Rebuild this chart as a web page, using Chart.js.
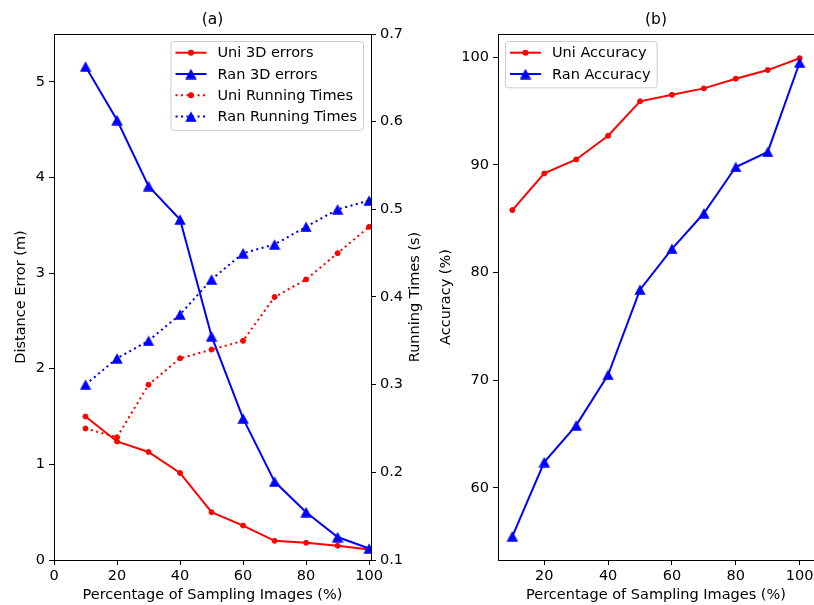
<!DOCTYPE html>
<html>
<head>
<meta charset="utf-8">
<script src="https://cdn.jsdelivr.net/npm/chart.js@4"></script>
<style>
html, body { margin: 0; padding: 0; background: #fff; }
#chartA { position: absolute; left: 0; top: 0; }
#chartB { position: absolute; left: 432px; top: 0; }
</style>
</head>
<body>
<canvas id="chartA" width="432" height="605"></canvas>
<canvas id="chartB" width="382" height="605"></canvas>
<script>
// data
const samplingPct = [10, 20, 30, 40, 50, 60, 70, 80, 90, 100];
const uniError = [1.50, 1.24, 1.13, 0.91, 0.50, 0.36, 0.20, 0.18, 0.15, 0.11];
const ranError = [5.16, 4.60, 3.91, 3.56, 2.34, 1.48, 0.82, 0.50, 0.24, 0.12];
const uniTime = [0.25, 0.24, 0.30, 0.33, 0.34, 0.35, 0.40, 0.42, 0.45, 0.48];
const ranTime = [0.30, 0.33, 0.35, 0.38, 0.42, 0.45, 0.46, 0.48, 0.50, 0.51];
const uniAcc = [85.8, 89.2, 90.5, 92.7, 95.9, 96.5, 97.1, 98.0, 98.8, 99.9];
const ranAcc = [55.5, 62.4, 65.8, 70.5, 78.4, 82.2, 85.5, 89.8, 91.2, 99.5];

const xTicksA = [0, 20, 40, 60, 80, 100];
const xTicksB = [20, 40, 60, 80, 100];
const errTicks = [0, 1, 2, 3, 4, 5];
const timeTicks = [0.1, 0.2, 0.3, 0.4, 0.5, 0.6, 0.7];
const accTicks = [60, 70, 80, 90, 100];

const RED = '#ff0000';
const BLUE = '#0000ff';
const FONT = 'DejaVu Sans';
const FS = 14.5;

Chart.defaults.font.family = FONT;
Chart.defaults.font.size = FS;
Chart.defaults.color = '#000';

const pts = arr => samplingPct.map((x, i) => ({ x: x, y: arr[i] }));
const setTicks = vals => scale => { scale.ticks = vals.map(v => ({ value: v })); };

// matplotlib style '^' marker
function triangle(color) {
    const c = document.createElement('canvas');
    c.width = 12; c.height = 11;
    const g = c.getContext('2d');
    g.fillStyle = color;
    g.beginPath();
    g.moveTo(6, 0.3);
    g.lineTo(0.3, 10.7);
    g.lineTo(11.7, 10.7);
    g.closePath();
    g.fill();
    return c;
}
const triBlue = triangle(BLUE);

function uniStyle(color, dash) {
    return {
        borderColor: color, backgroundColor: color, borderWidth: 2, borderDash: dash,
        pointStyle: 'circle', pointRadius: 2.5, pointBorderWidth: 1,
        pointBackgroundColor: color, pointBorderColor: color, tension: 0, fill: false
    };
}
function ranStyle(color, dash) {
    return {
        borderColor: color, backgroundColor: color, borderWidth: 2, borderDash: dash,
        pointStyle: triBlue, pointRadius: 5, pointBorderWidth: 0, tension: 0, fill: false
    };
}

/* legend drawn like matplotlib's boxed legend */
const mplLegend = {
    id: 'mplLegend',
    afterDatasetsDraw(chart, args, opts) {
        const ctx = chart.ctx, ca = chart.chartArea;
        const sets = chart.data.datasets;
        const rowH = 21.3, handle = 31;
        ctx.save();
        ctx.font = FS + 'px "' + FONT + '"';
        const textW = Math.max(...sets.map(d => ctx.measureText(d.label).width));
        const w = 5 + handle + 11 + textW + 6;
        const h = 11.7 + (sets.length - 1) * rowH + 13.3;
        const left = opts.loc === 'right' ? ca.right - 8 - w : ca.left + 7;
        const top = ca.top + 7;
        ctx.beginPath();
        ctx.roundRect(left + 0.5, top + 0.5, w, h, 3);
        ctx.fillStyle = 'rgba(255,255,255,0.8)';
        ctx.fill();
        ctx.strokeStyle = '#cccccc';
        ctx.lineWidth = 1;
        ctx.stroke();
        sets.forEach((d, i) => {
            const y = top + 11.7 + i * rowH;
            const x0 = left + 5;
            ctx.strokeStyle = d.borderColor;
            ctx.lineWidth = d.borderWidth;
            ctx.setLineDash(d.borderDash || []);
            ctx.beginPath();
            ctx.moveTo(x0, y);
            ctx.lineTo(x0 + handle, y);
            ctx.stroke();
            ctx.setLineDash([]);
            const mx = x0 + handle / 2;
            if (d.pointStyle instanceof HTMLCanvasElement) {
                ctx.drawImage(d.pointStyle, mx - d.pointStyle.width / 2, y - d.pointStyle.height / 2);
            } else {
                ctx.fillStyle = d.pointBackgroundColor;
                ctx.beginPath();
                ctx.arc(mx, y, d.pointRadius + d.pointBorderWidth / 2, 0, Math.PI * 2);
                ctx.fill();
            }
            ctx.fillStyle = '#000';
            ctx.textBaseline = 'middle';
            ctx.fillText(d.label, x0 + handle + 11, y + 1);
        });
        ctx.restore();
    }
};

/* top spine + right-hand axis title reading upwards */
const extras = {
    id: 'extras',
    afterDraw(chart, args, opts) {
        const ctx = chart.ctx, ca = chart.chartArea;
        ctx.save();
        ctx.strokeStyle = '#000';
        ctx.lineWidth = 1;
        ctx.beginPath();
        ctx.moveTo(ca.left, Math.round(ca.top) + 0.5);
        ctx.lineTo(ca.right + 1, Math.round(ca.top) + 0.5);
        ctx.stroke();
        if (opts.sideTitle) {
            ctx.translate(opts.sideX, (ca.top + ca.bottom) / 2);
            ctx.rotate(-Math.PI / 2);
            ctx.font = FS + 'px "' + FONT + '"';
            ctx.fillStyle = '#000';
            ctx.textAlign = 'center';
            ctx.textBaseline = 'middle';
            ctx.fillText(opts.sideTitle, 0, 0);
        }
        ctx.restore();
    }
};

const gridOpts = { display: true, drawOnChartArea: false, drawTicks: true, tickLength: 5, color: '#000', lineWidth: 1 };
const borderOpts = { display: true, color: '#000', width: 1 };

function xAxis(min, max, ticks) {
    return {
        type: 'linear', min: min, max: max,
        afterBuildTicks: setTicks(ticks),
        afterFit: s => { s.height = 45; s.paddingLeft = 0; s.paddingRight = 0; },
        ticks: { padding: 3, maxRotation: 0 },
        grid: gridOpts, border: borderOpts,
        title: { display: true, text: 'Percentage of Sampling Images (%)', padding: { top: 0, bottom: 1 } }
    };
}

const titleFont = { size: 15.5, weight: 'normal' };

new Chart(document.getElementById('chartA'), {
    type: 'line',
    data: {
        datasets: [
            Object.assign({ label: 'Uni 3D errors', data: pts(uniError), yAxisID: 'y', order: 3 }, uniStyle(RED, [])),
            Object.assign({ label: 'Ran 3D errors', data: pts(ranError), yAxisID: 'y', order: 2 }, ranStyle(BLUE, [])),
            Object.assign({ label: 'Uni Running Times', data: pts(uniTime), yAxisID: 'y1', order: 1 }, uniStyle(RED, [2.1, 3.4])),
            Object.assign({ label: 'Ran Running Times', data: pts(ranTime), yAxisID: 'y1', order: 0 }, ranStyle(BLUE, [2.1, 3.4]))
        ]
    },
    options: {
        responsive: false,
        animation: false,
        layout: { padding: 0, autoPadding: false },
        plugins: {
            legend: { display: false },
            tooltip: { enabled: false },
            title: { display: true, text: '(a)', fullSize: false, font: titleFont, padding: { top: 11, bottom: 4.4 } },
            mplLegend: { loc: 'right' },
            extras: { sideTitle: 'Running Times (s)', sideX: 415 }
        },
        scales: {
            x: xAxis(0, 100.6, xTicksA),
            y: {
                position: 'left', min: 0, max: 5.5,
                afterBuildTicks: setTicks(errTicks),
                afterFit: s => { s.width = 54; },
                ticks: { padding: 4 },
                grid: gridOpts, border: borderOpts,
                title: { display: true, text: 'Distance Error (m)', padding: { top: 12.5, bottom: 0 } }
            },
            y1: {
                position: 'right', min: 0.1, max: 0.7,
                afterBuildTicks: setTicks(timeTicks),
                afterFit: s => { s.width = 432 - 371; },
                ticks: { padding: 4, callback: v => v.toFixed(1) },
                grid: gridOpts, border: borderOpts
            }
        }
    },
    plugins: [mplLegend, extras]
});

new Chart(document.getElementById('chartB'), {
    type: 'line',
    data: {
        datasets: [
            Object.assign({ label: 'Uni Accuracy', data: pts(uniAcc), order: 1 }, uniStyle(RED, [])),
            Object.assign({ label: 'Ran Accuracy', data: pts(ranAcc), order: 0 }, ranStyle(BLUE, []))
        ]
    },
    options: {
        responsive: false,
        animation: false,
        layout: { padding: 0, autoPadding: false },
        plugins: {
            legend: { display: false },
            tooltip: { enabled: false },
            title: { display: true, text: '(b)', fullSize: false, font: titleFont, padding: { top: 11, bottom: 4.4 } },
            mplLegend: { loc: 'left' },
            extras: {}
        },
        scales: {
            x: xAxis(5.5, 104.5, xTicksB),
            y: {
                position: 'left', min: 53.3, max: 102.15,
                afterBuildTicks: setTicks(accTicks),
                afterFit: s => { s.width = 498 - 432; },
                ticks: { padding: 4 },
                grid: gridOpts, border: borderOpts,
                title: { display: true, text: 'Accuracy (%)', padding: { top: 6, bottom: 0 } }
            }
        }
    },
    plugins: [mplLegend, extras]
});
</script>
</body>
</html>
